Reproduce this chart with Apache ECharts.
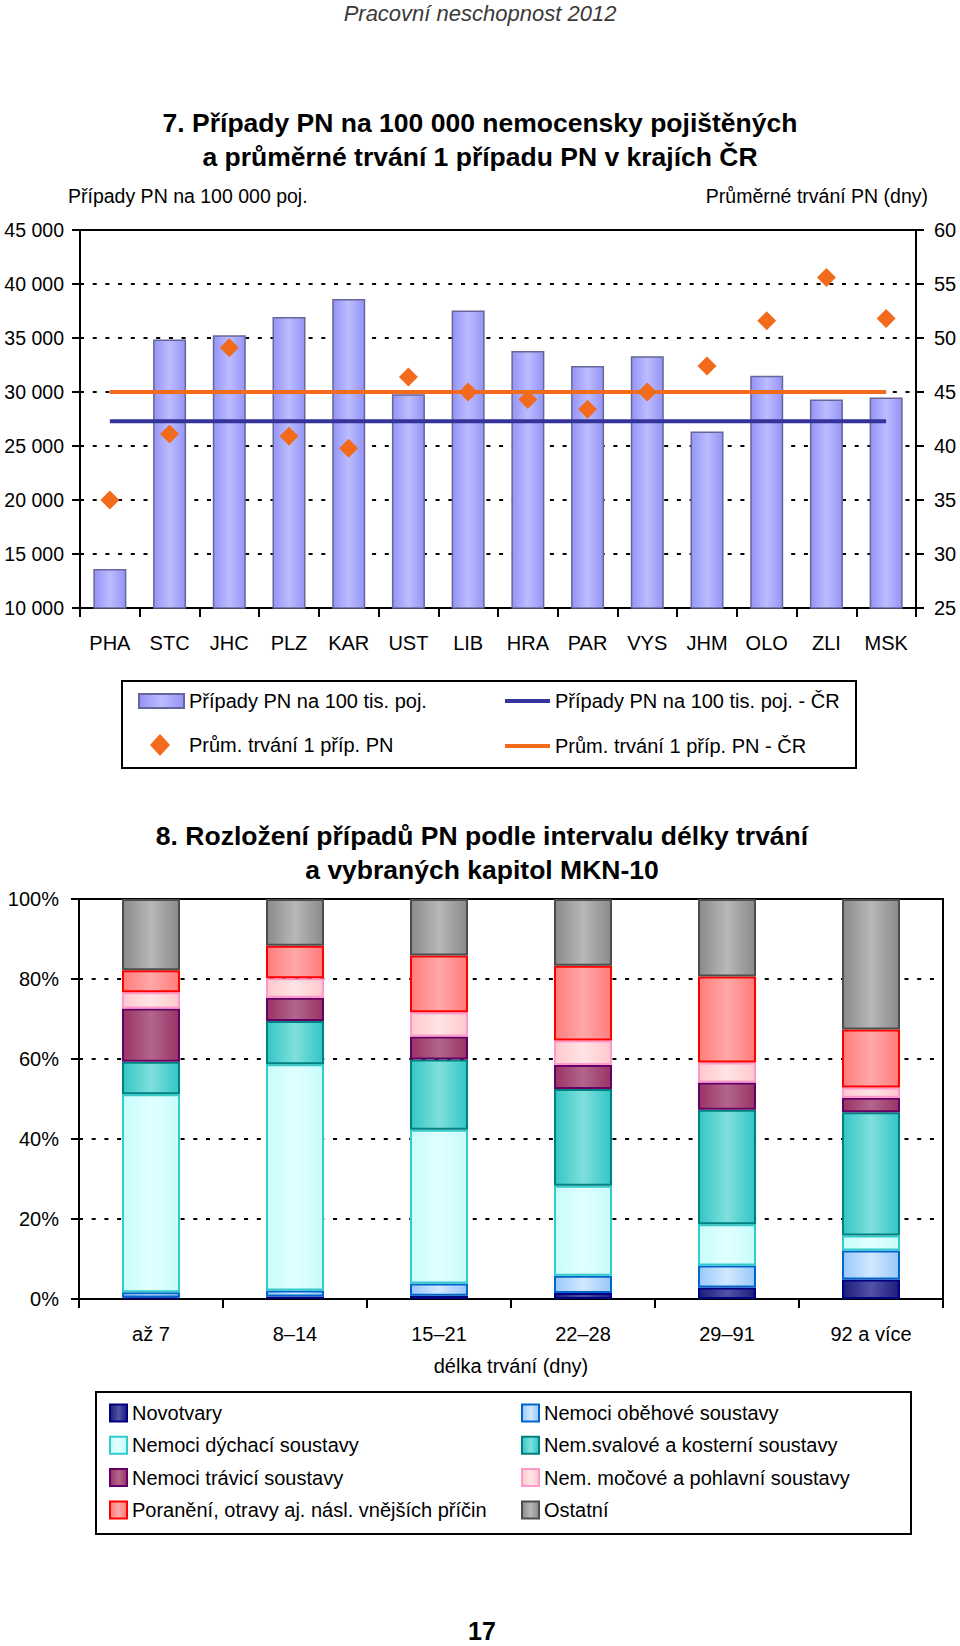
<!DOCTYPE html>
<html>
<head>
<meta charset="utf-8">
<script src="https://cdn.jsdelivr.net/npm/echarts@6/dist/echarts.min.js"></script>
<style>
html,body{margin:0;padding:0;background:#fff;}
#c{width:960px;height:1646px;}
</style>
</head>
<body>
<div id="c"></div>
<script>
// ---------- Chart 7 data ----------
const regions = ['PHA','STC','JHC','PLZ','KAR','UST','LIB','HRA','PAR','VYS','JHM','OLO','ZLI','MSK'];
const casesPer100k = [13600, 34850, 35250, 36950, 38600, 29800, 37550, 33800, 32400, 33300, 26350, 31500, 29300, 29500];
const avgDuration = [35.0, 41.1, 49.1, 40.9, 39.8, 46.4, 45.0, 44.3, 43.4, 45.0, 47.4, 51.6, 55.6, 51.8];
const casesCR = [27300, 27300, 27300, 27300, 27300, 27300, 27300, 27300, 27300, 27300, 27300, 27300, 27300, 27300];
const durationCR = [45.0, 45.0, 45.0, 45.0, 45.0, 45.0, 45.0, 45.0, 45.0, 45.0, 45.0, 45.0, 45.0, 45.0];

// ---------- Chart 8 data ----------
const intervals = ['až 7', '8–14', '15–21', '22–28', '29–91', '92 a více'];
const novotvary = [0.4, 0.6, 0.8, 1.5, 2.9, 4.9];
const obehove   = [1.3, 1.5, 3.1, 4.3, 5.5, 7.2];
const dychaci   = [49.5, 56.6, 38.4, 22.5, 10.3, 3.8];
const svalove   = [8.1, 10.8, 17.6, 24.2, 28.6, 30.8];
const travici   = [13.3, 5.8, 5.7, 6.0, 6.8, 3.6];
const mocove    = [4.1, 4.9, 6.1, 6.1, 5.0, 2.6];
const poraneni  = [5.5, 8.1, 14.2, 18.7, 21.5, 14.5];
const ostatni   = [17.8, 11.7, 14.1, 16.7, 19.4, 32.6];

const FONT = 'Liberation Sans, Arial, Helvetica, sans-serif';

function grad(edge, center) {
  return { type: 'linear', x: 0, y: 0, x2: 1, y2: 0,
    colorStops: [{offset: 0, color: edge}, {offset: 0.5, color: center}, {offset: 1, color: edge}] };
}
function thousands(v) { return String(v).replace(/\B(?=(\d{3})+(?!\d))/g, ' '); }

const dashed = { show: true, lineStyle: { color: '#000', width: 2, type: [4, 8.7] } };
const axisLineBlack = { show: true, lineStyle: { color: '#000', width: 2 } };
const tickBlack = { show: true, length: 8, lineStyle: { color: '#000', width: 2 } };
const labelStyle = { color: '#000', fontSize: 20, fontFamily: FONT };

const s8 = [
  ['Novotvary', novotvary, grad('#1c1c7c', '#5252a8'), '#000080'],
  ['Nemoci oběhové soustavy', obehove, grad('#99c8fa', '#d2e8ff'), '#0066cc'],
  ['Nemoci dýchací soustavy', dychaci, grad('#c8fcfc', '#e2ffff'), '#33cccc'],
  ['Nem.svalové a kosterní soustavy', svalove, grad('#33c6c6', '#7fe0dc'), '#008080'],
  ['Nemoci trávicí soustavy', travici, grad('#993366', '#b3668c'), '#660066'],
  ['Nem. močové a pohlavní soustavy', mocove, grad('#ffc8cc', '#ffe4e6'), '#ff99cc'],
  ['Poranění, otravy aj. násl. vnějších příčin', poraneni, grad('#ff7c7c', '#ffa8a8'), '#ff0000'],
  ['Ostatní', ostatni, grad('#8a8a8a', '#b8b8b8'), '#4d4d4d']
];

const series = [
  { name: 'Případy PN na 100 tis. poj.', type: 'bar', xAxisIndex: 0, yAxisIndex: 0, z: 2,
    data: casesPer100k, barWidth: 33,
    itemStyle: { color: grad('#9494f6', '#bcbcff'), borderColor: '#666699', borderWidth: 1.5 } },
  { name: 'Případy PN na 100 tis. poj. - ČR', type: 'line', xAxisIndex: 0, yAxisIndex: 0, z: 3,
    data: casesCR, symbol: 'none', lineStyle: { color: '#333399', width: 4 }, itemStyle: { color: '#333399' } },
  { name: 'Prům. trvání 1 příp. PN - ČR', type: 'line', xAxisIndex: 0, yAxisIndex: 1, z: 3,
    data: durationCR, symbol: 'none', lineStyle: { color: '#f26b1d', width: 4 }, itemStyle: { color: '#f26b1d' } },
  { name: 'Prům. trvání 1 příp. PN', type: 'scatter', xAxisIndex: 0, yAxisIndex: 1, z: 4,
    data: avgDuration, symbol: 'diamond', symbolSize: 19, symbolKeepAspect: true,
    itemStyle: { color: '#f26b1d', opacity: 1 } }
];
s8.forEach(function (s) {
  series.push({ name: s[0], type: 'bar', stack: 'mkn', xAxisIndex: 1, yAxisIndex: 2,
    data: s[1], barWidth: 58,
    itemStyle: { color: s[2], borderColor: s[3], borderWidth: 2 } });
});

function legendAt(names, left, top, opts) {
  return Object.assign({
    data: names, left: left, top: top, orient: 'vertical', padding: 0,
    selectedMode: false, itemGap: 12,
    textStyle: { color: '#000', fontSize: 20, fontFamily: FONT, lineHeight: 20 }
  }, opts);
}

function txt(text, x, y, size, extra) {
  return { type: 'text', x: x, y: y, silent: true,
    style: Object.assign({ text: text, fontSize: size, fontFamily: FONT, fill: '#000',
      align: 'center', verticalAlign: 'middle', textAlign: 'center', textVerticalAlign: 'middle' }, extra || {}) };
}

const col1 = ['Novotvary', 'Nemoci dýchací soustavy', 'Nemoci trávicí soustavy', 'Poranění, otravy aj. násl. vnějších příčin'];
const col2 = ['Nemoci oběhové soustavy', 'Nem.svalové a kosterní soustavy', 'Nem. močové a pohlavní soustavy', 'Ostatní'];
function rectItems(names) { return names.map(function (n) { return { name: n, icon: 'rect' }; }); }

const option = {
  animation: false,
  backgroundColor: '#fff',
  textStyle: { fontFamily: FONT },
  grid: [
    { left: 80, top: 230, width: 836, height: 378, show: true, borderColor: '#000', borderWidth: 2,
      backgroundColor: 'transparent', containLabel: false, outerBoundsMode: 'none' },
    { left: 79, top: 899, width: 864, height: 400, show: true, borderColor: '#000', borderWidth: 2,
      backgroundColor: 'transparent', containLabel: false, outerBoundsMode: 'none' }
  ],
  xAxis: [
    { type: 'category', gridIndex: 0, data: regions, axisLine: axisLineBlack,
      axisTick: { show: true, length: 9, lineStyle: { color: '#000', width: 2 } },
      axisLabel: Object.assign({ margin: 25, interval: 0 }, labelStyle) },
    { type: 'category', gridIndex: 1, data: intervals, axisLine: axisLineBlack,
      axisTick: { show: true, length: 9, lineStyle: { color: '#000', width: 2 } },
      axisLabel: Object.assign({ margin: 25, interval: 0 }, labelStyle) }
  ],
  yAxis: [
    { type: 'value', gridIndex: 0, min: 10000, max: 45000, interval: 5000, position: 'left',
      axisLine: axisLineBlack, axisTick: tickBlack, splitLine: dashed,
      axisLabel: Object.assign({}, labelStyle, { margin: 16, fontSize: 19.5, formatter: thousands }) },
    { type: 'value', gridIndex: 0, min: 25, max: 60, interval: 5, position: 'right',
      axisLine: axisLineBlack, axisTick: tickBlack, splitLine: { show: false },
      axisLabel: Object.assign({ margin: 18 }, labelStyle) },
    { type: 'value', gridIndex: 1, min: 0, max: 100, interval: 20,
      axisLine: axisLineBlack, axisTick: tickBlack, splitLine: dashed,
      axisLabel: Object.assign({ margin: 20, formatter: '{value}%' }, labelStyle) }
  ],
  legend: [
    legendAt([{ name: 'Případy PN na 100 tis. poj.', icon: 'rect' }], 138, 691, { itemWidth: 45, itemHeight: 14 }),
    legendAt([{ name: 'Prům. trvání 1 příp. PN', icon: 'diamond' }], 150, 734, { itemWidth: 20, itemHeight: 22,
      textStyle: { color: '#000', fontSize: 20, fontFamily: FONT, lineHeight: 20, padding: [0, 0, 0, 14] } }),
    legendAt([{ name: 'Případy PN na 100 tis. poj. - ČR', icon: 'rect' }], 505, 691, { itemWidth: 45, itemHeight: 4 }),
    legendAt([{ name: 'Prům. trvání 1 příp. PN - ČR', icon: 'rect' }], 505, 736, { itemWidth: 45, itemHeight: 4 }),
    legendAt(rectItems(col1), 109, 1403, { itemWidth: 17, itemHeight: 17, itemGap: 12.3 }),
    legendAt(rectItems(col2), 521, 1403, { itemWidth: 17, itemHeight: 17, itemGap: 12.3 })
  ],
  graphic: [
    txt('Pracovní neschopnost 2012', 480, 13, 22, { fontStyle: 'italic', fill: '#3a3a3a' }),
    txt('7. Případy PN na 100 000 nemocensky pojištěných', 480, 123, 26.5, { fontWeight: 'bold' }),
    txt('a průměrné trvání 1 případu PN v krajích ČR', 480, 157, 26.5, { fontWeight: 'bold' }),
    txt('Případy PN na 100 000 poj.', 68, 196, 19.5, { align: 'left', textAlign: 'left' }),
    txt('Průměrné trvání PN (dny)', 928, 196, 19.5, { align: 'right', textAlign: 'right' }),
    { type: 'rect', silent: true, shape: { x: 122, y: 681, width: 734, height: 87 },
      style: { fill: 'none', stroke: '#000', lineWidth: 2 } },
    txt('8. Rozložení případů PN podle intervalu délky trvání', 482, 836, 26.5, { fontWeight: 'bold' }),
    txt('a vybraných kapitol MKN-10', 482, 870, 26.5, { fontWeight: 'bold' }),
    txt('délka trvání (dny)', 511, 1366, 20),
    { type: 'rect', silent: true, shape: { x: 96, y: 1392, width: 815, height: 142 },
      style: { fill: 'none', stroke: '#000', lineWidth: 2 } },
    txt('17', 482, 1631, 25, { fontWeight: 'bold' })
  ],
  series: series
};

const chart = echarts.init(document.getElementById('c'), null, { renderer: 'svg', width: 960, height: 1646 });
chart.setOption(option);
</script>
</body>
</html>
